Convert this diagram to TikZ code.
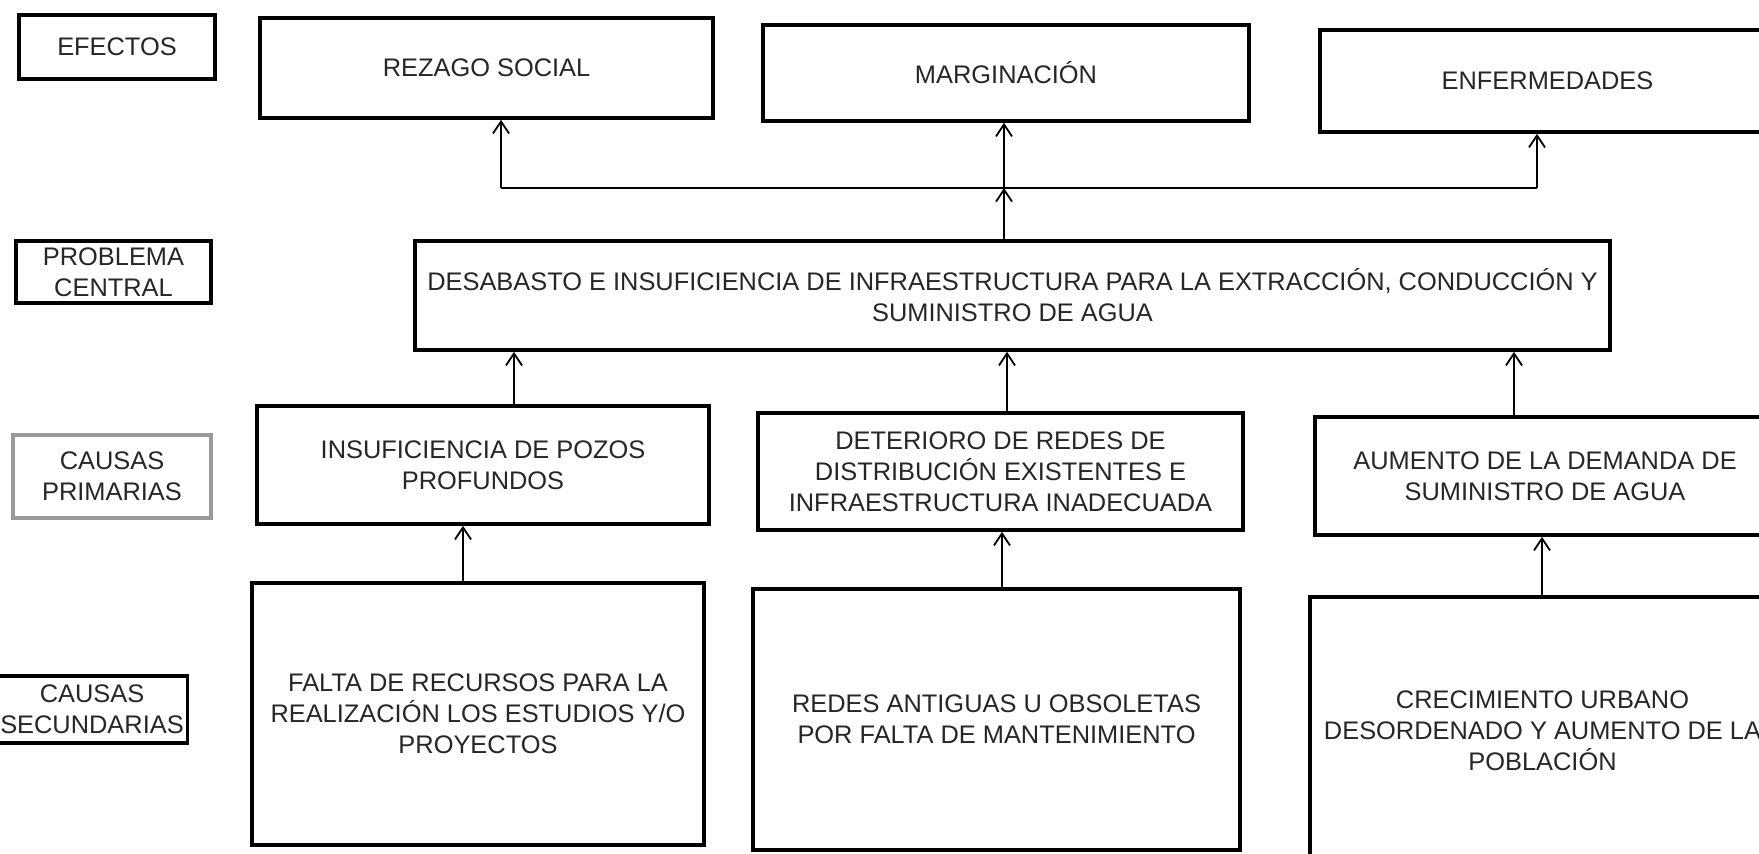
\documentclass[tikz,border=0pt]{standalone}
\usepackage{fontspec}
\setmainfont{Liberation Sans}
\usetikzlibrary{arrows.meta}

\begin{document}
\begin{tikzpicture}[x=0.5pt, y=-0.5pt,
    caja/.style={draw, line width=1.8pt, inner sep=2pt, align=center,
        font=\fontsize{12.7}{15.5}\selectfont, text=black!85},
    etiqueta/.style={caja, line width=1.6pt},
    flecha/.style={-{Straight Barb[length=6pt, width=8pt]}, line width=0.9pt},
    linea/.style={line width=0.9pt}]

        \useasboundingbox (0,0) rectangle (1759,853);
        \clip (0,0) rectangle (1759,853);

        % Level labels
        \node[etiqueta, minimum width=98pt, minimum height=32pt] (efe) at (117,47) {EFECTOS};
        \node[etiqueta, minimum width=97.5pt, minimum height=31pt] (pro) at (113.5,272) {PROBLEMA\\CENTRAL};
        \node[etiqueta, draw=black!40, minimum width=99pt, minimum height=41.5pt] (pri) at (112,476.5) {CAUSAS\\PRIMARIAS};
        \node[etiqueta, minimum width=83pt, minimum height=33.5pt] (sec) at (92,709.5) {CAUSAS\\SECUNDARIAS};

        % Effects
        \node[caja, minimum width=226.5pt, minimum height=50pt] (rez) at (486.5,68) {REZAGO SOCIAL};
        \node[caja, minimum width=243pt, minimum height=48pt] (mar) at (1006,73) {MARGINACIÓN};
        \node[caja, minimum width=227.5pt, minimum height=51pt] (enf) at (1547.5,81) {ENFERMEDADES};

        % Central problem
        \node[caja, minimum width=597.5pt, minimum height=54.5pt] (des) at (1012.5,295.5)
            {DESABASTO E INSUFICIENCIA DE INFRAESTRUCTURA PARA LA EXTRACCIÓN, CONDUCCIÓN Y\\SUMINISTRO DE AGUA};

        % Primary causes
        \node[caja, minimum width=226pt, minimum height=59pt] (ins) at (483,465)
            {INSUFICIENCIA DE POZOS\\PROFUNDOS};
        \node[caja, minimum width=242.5pt, minimum height=58.5pt] (det) at (1000.5,471.5)
            {DETERIORO DE REDES DE\\DISTRIBUCIÓN EXISTENTES E\\INFRAESTRUCTURA INADECUADA};
        \node[caja, minimum width=230pt, minimum height=59pt] (aum) at (1545,476)
            {AUMENTO DE LA DEMANDA DE\\SUMINISTRO DE AGUA};

        % Secondary causes
        \node[caja, minimum width=226pt, minimum height=131pt] (fal) at (478,714)
            {FALTA DE RECURSOS PARA LA\\REALIZACIÓN LOS ESTUDIOS Y/O\\PROYECTOS};
        \node[caja, minimum width=243.5pt, minimum height=130.5pt] (red) at (996.5,719.5)
            {REDES ANTIGUAS U OBSOLETAS\\POR FALTA DE MANTENIMIENTO};
        \node[caja, minimum width=232.5pt, minimum height=134pt] (cre) at (1542.5,731)
            {CRECIMIENTO URBANO\\DESORDENADO Y AUMENTO DE LA\\POBLACIÓN};

        % Central problem to effects
        \coordinate (ramal) at (1004,188);
        \draw[linea] (501,188) -- (1537,188);
        \draw[flecha] (1004,0 |- des.north) -- (ramal);
        \draw[flecha] (501,188) -- (501,0 |- rez.south);
        \draw[flecha] (ramal) -- (1004,0 |- mar.south);
        \draw[flecha] (1537,188) -- (1537,0 |- enf.south);

        % Primary causes to central problem
        \draw[flecha] (514,0 |- ins.north) -- (514,0 |- des.south);
        \draw[flecha] (1007,0 |- det.north) -- (1007,0 |- des.south);
        \draw[flecha] (1514,0 |- aum.north) -- (1514,0 |- des.south);

        % Secondary causes to primary causes
        \draw[flecha] (463,0 |- fal.north) -- (463,0 |- ins.south);
        \draw[flecha] (1002,0 |- red.north) -- (1002,0 |- det.south);
        \draw[flecha] (1542,0 |- cre.north) -- (1542,0 |- aum.south);

    \end{tikzpicture}
\end{document}
